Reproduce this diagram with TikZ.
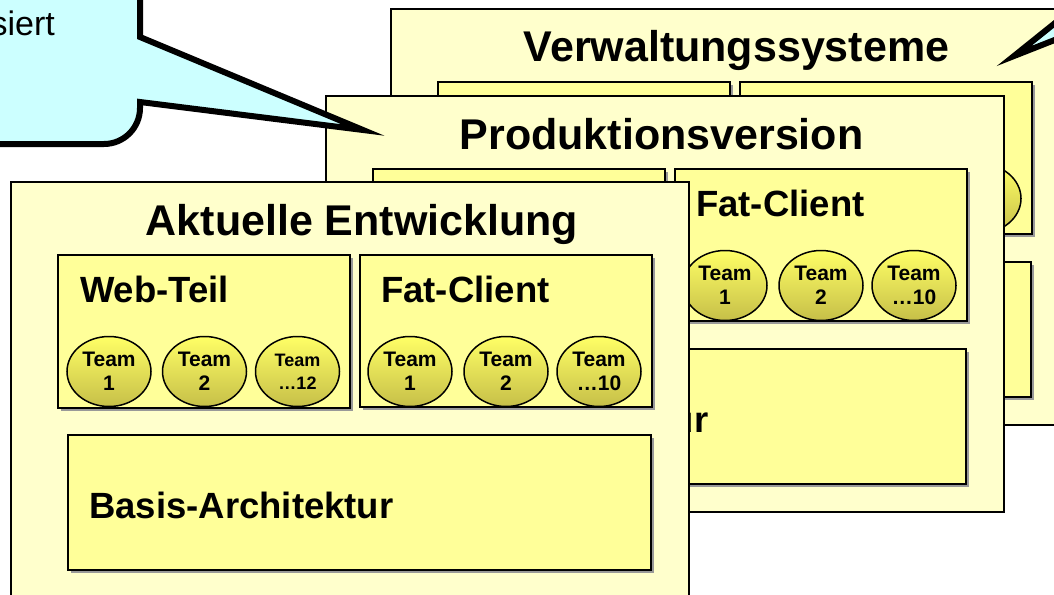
\documentclass[tikz,border=0pt]{standalone}
\usepackage{fontspec}
\setmainfont{Liberation Sans}
\usetikzlibrary{shapes.geometric}
\definecolor{panelfill}{HTML}{FFFFCC}
\definecolor{boxfill}{HTML}{FFFF99}
\definecolor{calloutfill}{HTML}{CCFFFF}
\definecolor{teamtop}{HTML}{FFFF66}
\definecolor{teambot}{HTML}{C6BF48}
\tikzset{
  panelbox/.style={fill=panelfill, draw=black, line width=2pt},
  innerbox/.style={fill=boxfill, draw=black, line width=2pt},
  boxshadow/.style={fill=black!40},
  team/.style={ellipse, draw=black, line width=1.5pt, top color=teamtop, bottom color=teambot,
    minimum width=84pt, minimum height=70pt, inner sep=0pt, align=center,
    font=\bfseries\fontsize{21}{24}\selectfont},
  teamsmall/.style={team, font=\bfseries\fontsize{18}{23}\selectfont},
  paneltitle/.style={font=\bfseries\fontsize{43}{50}\selectfont, inner sep=0pt, anchor=base},
  subtitle/.style={font=\bfseries\fontsize{36.5}{42}\selectfont, inner sep=0pt, anchor=base west},
  callout/.style={fill=calloutfill, draw=black, line width=6pt, line join=miter},
  callouttext/.style={font=\fontsize{34}{40}\selectfont, inner sep=0pt, anchor=base east},
}
% panel frame with its three inner boxes; #1 dx, #2 dy
\newcommand\panelframe[2]{%
\begin{scope}[shift={(#1,#2)}]
  \draw[panelbox] (11,182) rectangle (689,598);
  \fill[boxshadow] (61,258) rectangle (353,411);
  \draw[innerbox] (58,255) rectangle (350,408);
  \fill[boxshadow] (363,258) rectangle (655,410);
  \draw[innerbox] (360,255) rectangle (652,407);
  \fill[boxshadow] (71,438) rectangle (654,573);
  \draw[innerbox] (68,435) rectangle (651,570);
\end{scope}}

\begin{document}
\begin{tikzpicture}[x=1pt, y=-1pt]
  \useasboundingbox (0,0) rectangle (1054,594);
  \clip (0,0) rectangle (1054,594);
  \fill[white] (0,0) rectangle (1054,594);

  % back panel: Verwaltungssysteme
  \panelframe{380}{-173}
  \begin{scope}[shift={(380,-173)}]
    \node[paneltitle] (vtitle) at (356.5,235) {Verwaltungssysteme};
    \node[team] (vf3) at (599,371.5) {Team\\…10};
  \end{scope}

  % middle panel: Produktionsversion
  \panelframe{315}{-86}
  \begin{scope}[shift={(315,-86)}]
    \node[paneltitle] (ptitle) at (346.5,235) {Produktionsversion};
    \node[subtitle] (pfat) at (381,302) {Fat-Client};
    \node[team] (pf1) at (410,371.5) {Team\\1};
    \node[team] (pf2) at (506,371.5) {Team\\2};
    \node[team] (pf3) at (599,371.5) {Team\\…10};
    \node[subtitle] (pbasis) at (89,518) {Basis-Architektur};
  \end{scope}

  % front panel: Aktuelle Entwicklung
  \panelframe{0}{0}
  \node[paneltitle] (atitle) at (362,235) {Aktuelle Entwicklung};
  \node[subtitle] (aweb) at (80,302) {Web-Teil};
  \node[team] (aw1) at (109,371.5) {Team\\1};
  \node[team] (aw2) at (204.5,371.5) {Team\\2};
  \node[teamsmall] (aw3) at (297.5,371.5) {Team\\…12};
  \node[subtitle] (afat) at (381,302) {Fat-Client};
  \node[team] (af1) at (410,371.5) {Team\\1};
  \node[team] (af2) at (506,371.5) {Team\\2};
  \node[team] (af3) at (599,371.5) {Team\\…10};
  \node[subtitle] (abasis) at (89,518) {Basis-Architektur};

  % callout top left
  \draw[callout] (-20,-20) -- (140,-20) -- (140,37) -- (363,130) -- (140,102)
     [rounded corners=36pt] -- (140,144) [sharp corners] -- (-20,144) -- cycle;
  \node[callouttext] (ctext) at (55,36) {siert};

  % callout top right
  \draw[callout] (1080,3) -- (1014,56) -- (1080,30) -- (1120,30) -- (1120,3) -- cycle;
\end{tikzpicture}
\end{document}
